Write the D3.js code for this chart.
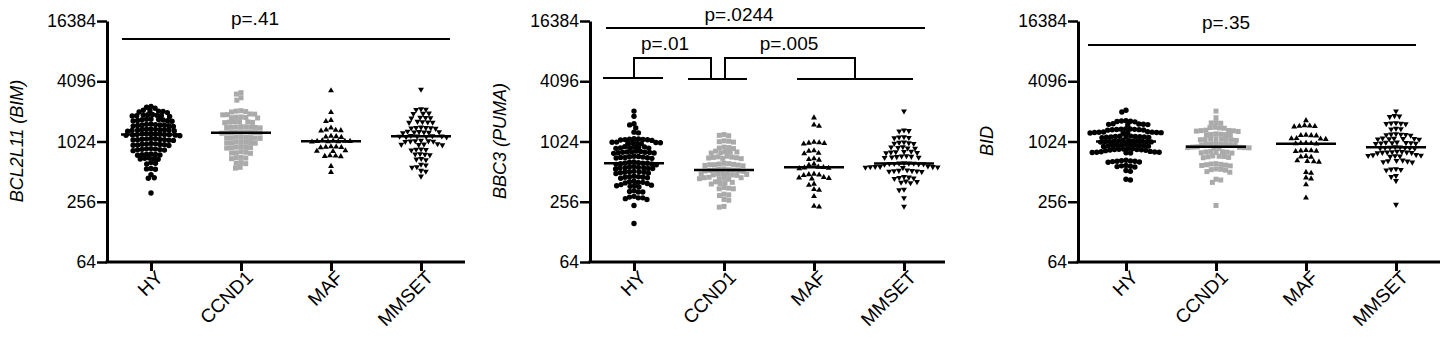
<!DOCTYPE html>
<html>
<head>
<meta charset="utf-8">
<script src="https://cdn.jsdelivr.net/npm/d3@7"></script>
<style>
  body { margin: 0; background: #fff; }
  svg text { font-family: "Liberation Sans", Arial, sans-serif; fill: #000; }
</style>
</head>
<body>
<svg id="chart" width="1447" height="342"></svg>
<script>
var categories = ["HY", "CCND1", "MAF", "MMSET"];
var yTickValues = [64, 256, 1024, 4096, 16384];

// BCL2L11 (BIM)
var bimHY = [2300, 2200, 2250,
  2080, 2020, 2100, 2050, 1990, 2060,
  1880, 1850, 1900, 1820, 1870, 1840, 1910, 1860,
  1680, 1650, 1700, 1630, 1720, 1660, 1690, 1640, 1710,
  1500, 1480, 1520, 1460, 1490, 1510, 1470, 1530, 1450, 1495,
  1340, 1320, 1360, 1300, 1350, 1330, 1310, 1370, 1345, 1325, 1355,
  1210, 1190, 1220, 1180, 1200, 1230, 1170, 1205, 1215, 1195, 1185, 1225,
  1080, 1060, 1090, 1050, 1070, 1100, 1065, 1075, 1085, 1055,
  960, 940, 970, 950, 955, 980, 935, 965, 945,
  860, 840, 870, 850, 830, 855, 845, 865,
  760, 750, 770, 745, 765, 755,
  690, 680, 700, 685, 695,
  620, 610, 630,
  545, 540, 550,
  478, 445, 440, 313];
var bimCCND1 = [3150, 3050, 2800, 2650,
  2080, 2040, 2060, 2020,
  1920, 1900, 1930, 1890,
  1790, 1770, 1800, 1760, 1780,
  1610, 1590, 1620, 1580, 1600, 1615,
  1430, 1410, 1440, 1400, 1420, 1435, 1415, 1425,
  1270, 1250, 1260, 1240, 1280, 1255, 1265, 1245, 1275,
  1130, 1110, 1120, 1100, 1140, 1125, 1115, 1105,
  1010, 990, 1000, 1020, 985, 1005, 995,
  900, 880, 890, 910, 885, 895,
  800, 780, 790, 810, 785,
  710, 690, 700, 705,
  630, 615, 620,
  565, 555];
var bimMAF = [3300, 2000, 1670, 1630, 1400,
  1340, 1320, 1330, 1310,
  1160, 1140, 1150, 1130,
  1040, 1030, 1020, 1035, 1025, 1045, 1015, 1030,
  910, 900, 890, 905, 895,
  830, 820, 815,
  740, 730, 725, 735,
  580, 505];
var bimMMSET = [3400,
  2160, 2130, 2140,
  1960, 1940, 1950,
  1780, 1760, 1770, 1750,
  1610, 1590, 1600, 1620, 1585,
  1410, 1390, 1400, 1420, 1380, 1405,
  1280, 1260, 1270, 1290, 1250, 1275, 1265,
  1160, 1140, 1150, 1170, 1135, 1155, 1145, 1165,
  1040, 1020, 1030, 1050, 1025, 1035,
  960, 950, 955, 970, 945,
  860, 840, 850, 855,
  770, 750, 760, 765,
  690, 670, 680,
  605, 595, 570, 565, 525, 515, 460];

// BBC3 (PUMA)
var pumaHY = [2060, 1830, 1540, 1500, 1400, 1270, 1250,
  1080, 1060, 1070, 1090, 1050, 1075, 1065, 1085,
  1000, 980, 990, 1010, 975, 995, 985, 1005,
  900, 880, 890, 910, 875, 895, 885, 905,
  810, 790, 800, 820, 785, 805, 795, 815, 780, 800,
  720, 700, 710, 730, 695, 715, 705, 725, 710,
  630, 610, 620, 640, 605, 625, 615, 635, 600, 620,
  565, 550, 560, 575, 545, 555, 570, 560, 550,
  510, 495, 505, 515, 500, 510, 490, 505,
  455, 445, 450, 460, 440, 450, 455,
  405, 395, 400, 410, 390, 400,
  375, 365, 370, 380, 360, 370,
  330, 320, 325, 320,
  285, 275, 280, 290, 270, 280,
  235, 155];
var pumaCCND1 = [1200, 1170, 1180,
  1040, 1020, 1030, 1010,
  900, 880, 890, 870,
  810, 790, 800, 820, 785, 805,
  720, 700, 710, 730, 695, 715, 705, 690,
  610, 595, 600, 620, 590, 605, 615, 585, 600,
  540, 525, 530, 545, 520, 535, 525, 515, 530,
  485, 475, 480, 490, 470, 485, 475, 480,
  445, 435, 440, 450, 430, 445, 435,
  400, 390, 395, 405, 385,
  355, 345, 350, 345,
  305, 295, 300,
  270, 265, 230, 226];
var pumaMAF = [1770, 1500, 1460,
  1010, 990, 980, 1000, 970,
  830, 820, 785, 775,
  690, 670, 680, 610, 595,
  570, 560, 555, 565, 550,
  485, 475, 480, 470,
  445, 440, 435, 450,
  385, 375, 340, 335, 290, 232, 228];
var pumaMMSET = [2060,
  1330, 1300, 1310,
  1130, 1110, 1120, 1140,
  1000, 980, 990, 1010, 975,
  900, 880, 890, 905, 875,
  810, 790, 800, 815, 785, 805,
  730, 710, 720, 735, 705, 725, 715,
  620, 610, 615, 625, 605, 620, 610, 615, 618,
  575, 565, 570, 580, 560, 572, 568, 575,
  525, 515, 520, 530, 510, 522, 518,
  450, 440, 445, 455, 435,
  405, 395, 400, 410,
  340, 335, 280, 230];

// BID
var bidHY = [2100, 2020,
  1650, 1620, 1640, 1610, 1630,
  1530, 1510, 1520, 1540, 1500, 1525,
  1360, 1340, 1350, 1370, 1330, 1355, 1345, 1365, 1335,
  1270, 1250, 1260, 1280, 1240, 1265, 1255, 1275, 1245, 1260,
  1150, 1130, 1140, 1160, 1120, 1145, 1135, 1155, 1125, 1140, 1150,
  1040, 1020, 1030, 1050, 1010, 1035, 1025, 1045, 1015, 1030, 1040, 1020,
  945, 925, 935, 955, 915, 940, 930, 950, 920, 935, 945,
  860, 840, 850, 870, 830, 855, 845, 865, 835, 850,
  810, 790, 800, 815, 785, 805, 795, 800,
  660, 640, 650, 665, 635, 655, 645, 650,
  590, 570, 580, 585, 575,
  525, 515, 430, 422];
var bidCCND1 = [2060, 1770,
  1580, 1560, 1570,
  1410, 1390, 1400, 1420,
  1320, 1300, 1310, 1330, 1290, 1315,
  1210, 1190, 1200, 1220, 1180, 1205,
  1080, 1060, 1070, 1090, 1050, 1075, 1065, 1085,
  965, 945, 955, 975, 935, 960, 950, 970,
  900, 880, 890, 905, 875, 895, 885, 890,
  810, 790, 800, 815, 785, 805, 795,
  730, 710, 720, 735, 705, 725,
  610, 590, 600, 615, 585, 605, 595,
  545, 530, 536, 540,
  512, 505, 430, 422, 400, 235];
var bidMAF = [1660,
  1480, 1450, 1460, 1470, 1440,
  1190, 1170, 1180, 1175,
  1100, 1080, 1090, 1095,
  990, 975, 980, 985, 970,
  835, 820, 825, 815, 830,
  730, 715, 720,
  660, 645, 650, 640,
  505, 495, 445, 435, 380, 280];
var bidMMSET = [2060,
  1850, 1810, 1830,
  1570, 1540, 1550, 1560, 1530,
  1380, 1360, 1370,
  1210, 1190, 1200, 1220, 1180, 1205,
  1100, 1080, 1090, 1105, 1075, 1095, 1085,
  1000, 980, 990, 1005, 975, 995, 985, 990,
  900, 880, 890, 905, 875, 895, 885, 890,
  810, 790, 800, 815, 785, 805, 795, 800,
  750, 730, 740, 755, 725, 745, 735,
  660, 640, 650, 665, 635, 655,
  545, 530, 536, 540,
  465, 455, 415, 240];

var bimP = ["p=.41"];
var pumaP = ["p=.0244", "p=.01", "p=.005"];
var bidP = ["p=.35"];

var svg = d3.select("#chart");
var yTop = 21, yBottom = 262;

var panels = [
  { left: 107, first: 44, len: 358, label: "BCL2L11 (BIM)", labelX: 23, series: [bimHY, bimCCND1, bimMAF, bimMMSET], p: bimP },
  { left: 590, first: 44, len: 355, label: "BBC3 (PUMA)", labelX: 506, series: [pumaHY, pumaCCND1, pumaMAF, pumaMMSET], p: pumaP },
  { left: 1078, first: 48, len: 362, label: "BID", labelX: 993, series: [bidHY, bidCCND1, bidMAF, bidMMSET], p: bidP }
];

// simple beeswarm: keep y, push x sideways until no overlap
function swarm(values, y, d) {
  var pts = values.map(function (v) { return { v: v, y: y(v), x: 0 }; })
    .sort(function (a, b) { return a.y - b.y; });
  var placed = [];
  pts.forEach(function (p, k) {
    var near = placed.filter(function (q) { return Math.abs(q.y - p.y) < d; });
    var cands = [0];
    near.forEach(function (q) {
      var dx = Math.sqrt(d * d - (q.y - p.y) * (q.y - p.y));
      cands.push(q.x + dx, q.x - dx);
    });
    cands.sort(function (a, b) {
      var r = Math.abs(a) - Math.abs(b);
      if (Math.abs(r) < 1e-6) return (k % 2 ? a - b : b - a);
      return r;
    });
    for (var i = 0; i < cands.length; i++) {
      var c = cands[i];
      var ok = near.every(function (q) {
        return (q.x - c) * (q.x - c) + (q.y - p.y) * (q.y - p.y) >= d * d - 0.01;
      });
      if (ok) { p.x = c; break; }
    }
    placed.push(p);
  });
  return pts;
}

var triUp = d3.symbol().type(d3.symbolTriangle).size(15);
var spacing = [4.5, 4.8, 5.2, 4.9];

panels.forEach(function (pn, pi) {
  var g = svg.append("g").attr("transform", "translate(" + pn.left + ",0)");

  var y = d3.scaleLog().base(2).domain([64, 16384]).range([yBottom, yTop]);
  var x = d3.scalePoint().domain(categories).range([pn.first, pn.first + 270]);

  // y axis
  var gy = g.append("g")
    .call(d3.axisLeft(y).tickValues(yTickValues).tickFormat(d3.format("d")).tickSize(10).tickSizeOuter(0).tickPadding(1));
  gy.select(".domain").attr("stroke-width", 3);
  gy.selectAll(".tick line").attr("stroke-width", 2.5);
  gy.selectAll(".tick text").style("font-size", "17.5px");

  // x axis
  var gx = g.append("g")
    .attr("transform", "translate(0," + yBottom + ")")
    .call(d3.axisBottom(x).tickSize(9).tickSizeOuter(0));
  gx.select(".domain").remove();
  gx.append("line").attr("x1", -1.5).attr("x2", pn.len).attr("stroke", "#000").attr("stroke-width", 3);
  gx.selectAll(".tick line").attr("stroke-width", 3);
  gx.selectAll(".tick text")
    .attr("y", 0).attr("x", 0).attr("dy", "0.72em")
    .attr("transform", "translate(3,7) rotate(-45)")
    .style("text-anchor", "end")
    .style("font-size", "19px");

  // y label
  svg.append("text")
    .attr("transform", "translate(" + pn.labelX + "," + 141 + ") rotate(-90)")
    .attr("text-anchor", "middle")
    .style("font-size", "18px")
    .style("font-style", "italic")
    .text(pn.label);

  // points
  pn.series.forEach(function (vals, ci) {
    var cx = x(categories[ci]);
    var pts = swarm(vals, y, spacing[ci]);
    var sel = g.append("g").selectAll("path").data(pts).enter();
    if (ci === 0) {
      sel.append("circle")
        .attr("cx", function (d) { return cx + d.x; })
        .attr("cy", function (d) { return d.y; })
        .attr("r", 2.7).attr("fill", "#000");
    } else if (ci === 1) {
      sel.append("rect")
        .attr("x", function (d) { return cx + d.x - 2.5; })
        .attr("y", function (d) { return d.y - 2.5; })
        .attr("width", 5).attr("height", 5).attr("fill", "#aaaaaa");
    } else {
      sel.append("path")
        .attr("d", triUp)
        .attr("transform", function (d) {
          return "translate(" + (cx + d.x) + "," + d.y + ")" + (ci === 3 ? " rotate(180)" : "");
        })
        .attr("fill", "#000");
    }
    var med = d3.median(vals);
    g.append("line")
      .attr("x1", cx - 30).attr("x2", cx + 30)
      .attr("y1", y(med)).attr("y2", y(med))
      .attr("stroke", "#000").attr("stroke-width", 2.5);
  });

  // significance annotations
  var ann = g.append("g").attr("stroke", "#000").attr("stroke-width", 2).attr("fill", "none");
  if (pi === 0) {
    ann.append("line").attr("x1", 15).attr("x2", 343).attr("y1", 39).attr("y2", 39);
    g.append("text").attr("x", 148).attr("y", 25).attr("text-anchor", "middle").style("font-size", "19px").text(pn.p[0]);
  } else if (pi === 1) {
    var xh = x("HY"), xc = x("CCND1"), xm = x("MAF"), xs = x("MMSET");
    ann.append("line").attr("x1", 16).attr("x2", 335).attr("y1", 28).attr("y2", 28);
    ann.append("line").attr("x1", xh - 31).attr("x2", xh + 29).attr("y1", 78).attr("y2", 78);
    ann.append("line").attr("x1", xc - 36).attr("x2", xc + 23).attr("y1", 79).attr("y2", 79);
    ann.append("line").attr("x1", xm - 17).attr("x2", xs + 9).attr("y1", 79).attr("y2", 79);
    ann.append("path").attr("d", "M" + xh + ",78V58H" + (xc - 13) + "V79");
    ann.append("path").attr("d", "M" + (xc + 1) + ",79V58H" + ((xm - 17 + xs + 9) / 2) + "V79");
    g.append("text").attr("x", 149).attr("y", 21).attr("text-anchor", "middle").style("font-size", "19px").text(pn.p[0]);
    g.append("text").attr("x", 75).attr("y", 50).attr("text-anchor", "middle").style("font-size", "19px").text(pn.p[1]);
    g.append("text").attr("x", 199).attr("y", 50).attr("text-anchor", "middle").style("font-size", "19px").text(pn.p[2]);
  } else {
    ann.append("line").attr("x1", 10).attr("x2", 338).attr("y1", 45).attr("y2", 45);
    g.append("text").attr("x", 148).attr("y", 29).attr("text-anchor", "middle").style("font-size", "19px").text(pn.p[0]);
  }
});
</script>
</body>
</html>
